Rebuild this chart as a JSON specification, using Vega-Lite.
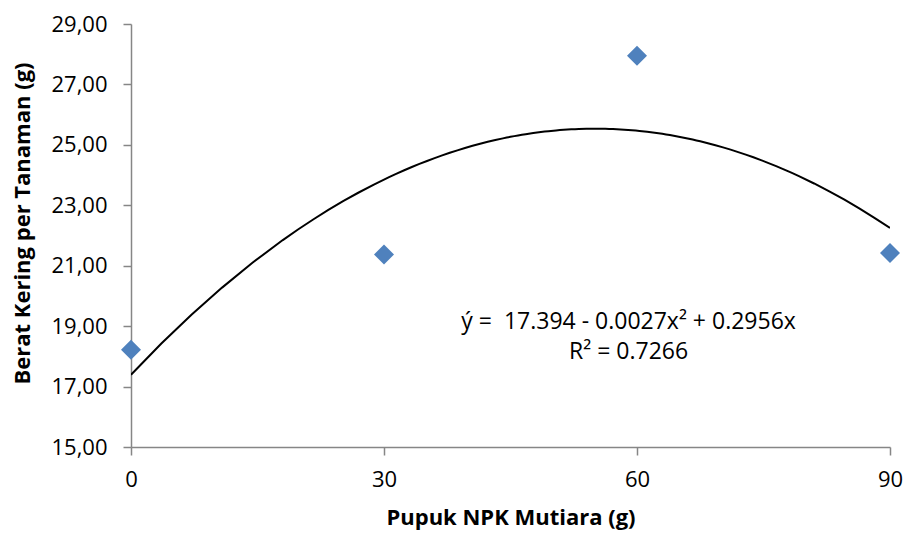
{
  "$schema": "https://vega.github.io/schema/vega-lite/v6.json",
  "autosize": {"type": "none"},
  "width": 759,
  "height": 423,
  "padding": {"left": 131, "top": 24, "right": 14, "bottom": 91},
  "background": "white",
  "config": {
    "view": {"stroke": null},
    "font": "Open Sans",
    "axis": {
      "grid": false,
      "domainColor": "#868686",
      "tickColor": "#868686",
      "domainWidth": 1.5,
      "tickWidth": 1.5,
      "tickSize": 8,
      "labelColor": "#000000",
      "labelFont": "Open Sans",
      "labelFontSize": 22,
      "titleFont": "Open Sans",
      "titleFontSize": 22,
      "titleFontWeight": "bold",
      "titleColor": "#000000"
    }
  },
  "data": {
    "values": [
      {"x": 0, "y": 18.22},
      {"x": 30, "y": 21.37},
      {"x": 60, "y": 27.95},
      {"x": 90, "y": 21.42}
    ]
  },
  "layer": [
    {
      "transform": [
        {"regression": "y", "on": "x", "method": "poly", "order": 2, "extent": [0, 90]}
      ],
      "mark": {"type": "line", "color": "#000000", "strokeWidth": 2, "clip": true},
      "encoding": {
        "x": {"field": "x", "type": "quantitative"},
        "y": {"field": "y", "type": "quantitative"}
      }
    },
    {
      "mark": {"type": "point", "shape": "diamond", "filled": true, "size": 400, "color": "#4F81BD", "opacity": 1},
      "encoding": {
        "x": {
          "field": "x",
          "type": "quantitative",
          "scale": {"domain": [0, 90], "nice": false, "zero": false},
          "axis": {
            "values": [0, 30, 60, 90],
            "title": "Pupuk NPK Mutiara (g)",
            "labelPadding": 14,
            "titlePadding": 17,
            "labelFlush": false
          }
        },
        "y": {
          "field": "y",
          "type": "quantitative",
          "scale": {"domain": [15, 29], "nice": false, "zero": false},
          "axis": {
            "values": [15, 17, 19, 21, 23, 25, 27, 29],
            "title": "Berat Kering per Tanaman (g)",
            "labelExpr": "replace(format(datum.value, '.2f'), '.', ',')",
            "labelPadding": 16,
            "titlePadding": 16,
            "titleY": 199
          }
        }
      }
    },
    {
      "data": {"values": [{"label": ["ý = \u00a017.394 - 0.0027x² + 0.2956x", "R² = 0.7266"]}]},
      "mark": {"type": "text", "fontSize": 23, "font": "Open Sans", "align": "center", "baseline": "middle", "lineHeight": 30, "color": "#000000"},
      "encoding": {
        "text": {"field": "label"},
        "x": {"datum": 59.0, "type": "quantitative"},
        "y": {"datum": 19.14, "type": "quantitative"}
      }
    }
  ]
}
